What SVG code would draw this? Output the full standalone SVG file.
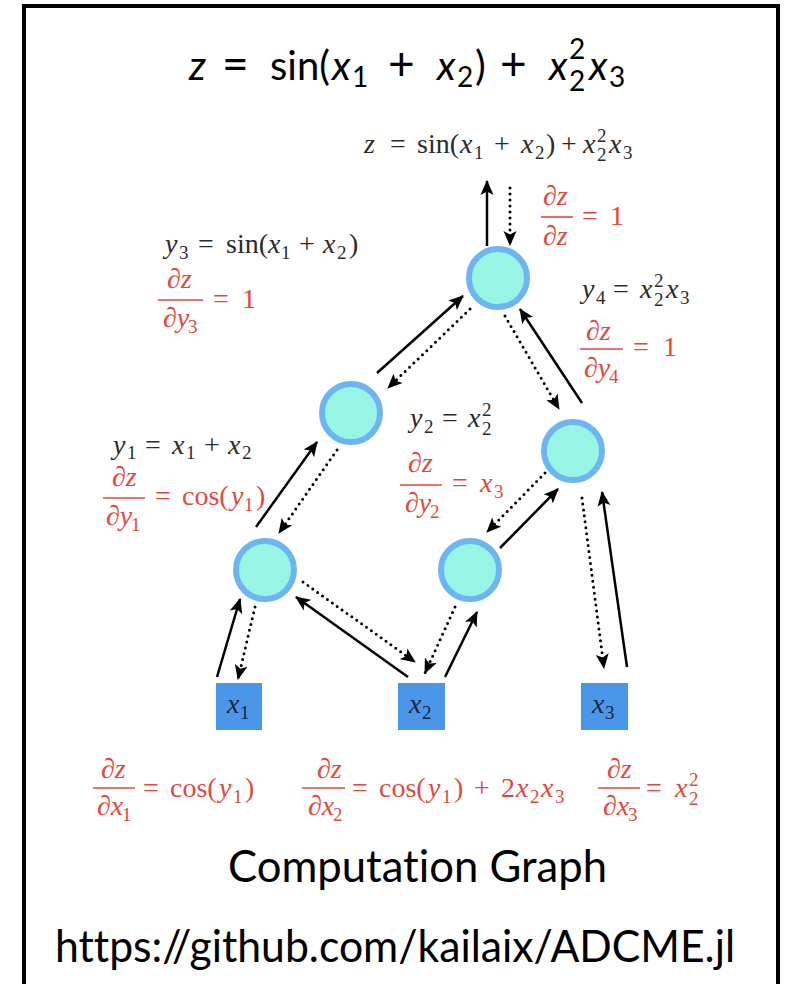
<svg xmlns="http://www.w3.org/2000/svg" width="787" height="984" viewBox="0 0 787 984">
<defs>
<marker id="ah" markerUnits="userSpaceOnUse" markerWidth="16" markerHeight="14" refX="14" refY="7" orient="auto">
<path d="M0,0.5 L15,7 L0,13.5 L3.5,7 z" fill="#000"/>
</marker>
<style>
.sans{font-family:Lato,"Noto Sans",sans-serif;fill:#000}
.cal{font-family:Lato,"Open Sans",sans-serif;fill:#000;font-variant-ligatures:none}
.serif{font-family:"Liberation Serif","Times New Roman",serif;font-size:28px}
.it{font-style:italic}
.s{font-size:19px;font-style:normal}
.blk{fill:#2b2b2b}
.red{fill:#e4473b}
.bar{stroke:#e4473b;stroke-width:1.6}
.node circle{fill:#98f5e3;stroke:#6cb5f2;stroke-width:6}
.inp rect{fill:#4a97ea}
.inp text{fill:#1d2340}
.solid{stroke:#000;stroke-width:2.5;fill:none;marker-end:url(#ah)}
.dot{stroke:#000;stroke-width:3;stroke-dasharray:0 6;stroke-linecap:round;fill:none;marker-end:url(#ah)}
</style>
</defs>
<rect x="0" y="0" width="787" height="984" fill="#fff"/>
<rect x="24" y="6" width="754" height="1010" fill="none" stroke="#000" stroke-width="4"/>

<!-- title -->
<text class="sans" font-size="40" y="80"><tspan x="189" class="it">z</tspan><tspan x="222" font-size="46">=</tspan><tspan x="270">sin(</tspan><tspan x="332" class="it">x</tspan><tspan x="352" y="87" font-size="28">1</tspan><tspan x="388" y="80" font-size="46">+</tspan><tspan x="437" class="it">x</tspan><tspan x="457" y="87" font-size="28">2</tspan><tspan x="475" y="80">)</tspan><tspan x="500" font-size="46">+</tspan><tspan x="549" class="it">x</tspan><tspan x="569" y="59" font-size="28">2</tspan><tspan x="569" y="91" font-size="28">2</tspan><tspan x="589" y="80" class="it">x</tspan><tspan x="609" y="87" font-size="28">3</tspan></text>

<!-- second formula -->
<text class="serif blk" y="153"><tspan x="364" class="it">z</tspan><tspan x="390">=</tspan><tspan x="417">sin(</tspan><tspan x="460" class="it">x</tspan><tspan x="474" y="159" class="s">1</tspan><tspan x="494" y="153">+</tspan><tspan x="521" class="it">x</tspan><tspan x="535" y="159" class="s">2</tspan><tspan x="546" y="153">)</tspan><tspan x="561">+</tspan><tspan x="583" class="it">x</tspan><tspan x="597" y="142" class="s">2</tspan><tspan x="597" y="161" class="s">2</tspan><tspan x="609" y="153" class="it">x</tspan><tspan x="623" y="159" class="s">3</tspan></text>

<g id="connectors">
<line class="solid" x1="487" y1="246" x2="487" y2="181"/>
<line class="dot" x1="510" y1="188" x2="510" y2="245"/>
<line class="solid" x1="377" y1="373" x2="463" y2="296"/>
<line class="dot" x1="470" y1="309" x2="388" y2="388"/>
<line class="solid" x1="582" y1="403" x2="520" y2="309"/>
<line class="dot" x1="505" y1="316" x2="559" y2="409"/>
<line class="solid" x1="256" y1="527" x2="317" y2="442"/>
<line class="dot" x1="337" y1="450" x2="279" y2="533"/>
<line class="solid" x1="500" y1="548" x2="558" y2="489"/>
<line class="dot" x1="545" y1="473" x2="487" y2="532"/>
<line class="solid" x1="217" y1="677" x2="240" y2="599"/>
<line class="dot" x1="255" y1="607" x2="238" y2="679"/>
<line class="solid" x1="408" y1="677" x2="296" y2="597"/>
<line class="dot" x1="303" y1="582" x2="415" y2="662"/>
<line class="solid" x1="445" y1="677" x2="477" y2="612"/>
<line class="dot" x1="455" y1="607" x2="425" y2="673"/>
<line class="solid" x1="627" y1="667" x2="602" y2="492"/>
<line class="dot" x1="582" y1="498" x2="604" y2="668"/>
</g>

<g id="node-z" class="node"><circle cx="498" cy="278" r="29"/></g>
<g id="node-y3" class="node"><circle cx="351" cy="413" r="29"/></g>
<g id="node-y4" class="node"><circle cx="573" cy="451" r="29"/></g>
<g id="node-y1" class="node"><circle cx="265" cy="570" r="29"/></g>
<g id="node-y2" class="node"><circle cx="470" cy="570" r="29"/></g>

<g id="input-x1" class="inp"><rect x="216" y="683" width="46" height="47"/>
<text class="serif" y="713"><tspan x="227" class="it">x</tspan><tspan x="240" y="719" class="s">1</tspan></text></g>
<g id="input-x2" class="inp"><rect x="398" y="683" width="47" height="47"/>
<text class="serif" y="713"><tspan x="409" class="it">x</tspan><tspan x="422" y="719" class="s">2</tspan></text></g>
<g id="input-x3" class="inp"><rect x="581" y="683" width="47" height="47"/>
<text class="serif" y="713"><tspan x="592" class="it">x</tspan><tspan x="605" y="719" class="s">3</tspan></text></g>

<g id="label-y3">
<text class="serif blk" y="253"><tspan x="165" class="it">y</tspan><tspan x="179" y="259" class="s">3</tspan><tspan x="198" y="253">=</tspan><tspan x="226">sin(</tspan><tspan x="268" class="it">x</tspan><tspan x="281" y="259" class="s">1</tspan><tspan x="299" y="253">+</tspan><tspan x="323" class="it">x</tspan><tspan x="337" y="259" class="s">2</tspan><tspan x="349" y="253">)</tspan></text>
<text class="serif red it" x="167" y="288">∂z</text>
<line class="bar" x1="158" y1="300" x2="203" y2="300"/>
<text class="serif red" y="327"><tspan x="163" class="it">∂y</tspan><tspan x="188" y="333" class="s">3</tspan></text>
<text class="serif red" y="308"><tspan x="213">=</tspan><tspan x="242">1</tspan></text>
</g>

<g id="label-z">
<text class="serif red it" x="543" y="205">∂z</text>
<line class="bar" x1="541" y1="217" x2="573" y2="217"/>
<text class="serif red it" x="543" y="245">∂z</text>
<text class="serif red" y="225"><tspan x="582">=</tspan><tspan x="610">1</tspan></text>
</g>

<g id="label-y4">
<text class="serif blk" y="298"><tspan x="582" class="it">y</tspan><tspan x="596" y="304" class="s">4</tspan><tspan x="613" y="298">=</tspan><tspan x="640" class="it">x</tspan><tspan x="654" y="287" class="s">2</tspan><tspan x="654" y="306" class="s">2</tspan><tspan x="666" y="298" class="it">x</tspan><tspan x="680" y="304" class="s">3</tspan></text>
<text class="serif red it" x="586" y="340">∂z</text>
<line class="bar" x1="580" y1="349" x2="623" y2="349"/>
<text class="serif red" y="377"><tspan x="584" class="it">∂y</tspan><tspan x="609" y="383" class="s">4</tspan></text>
<text class="serif red" y="356"><tspan x="633">=</tspan><tspan x="663">1</tspan></text>
</g>

<g id="label-y2">
<text class="serif blk" y="427"><tspan x="410" class="it">y</tspan><tspan x="424" y="433" class="s">2</tspan><tspan x="442" y="427">=</tspan><tspan x="468" class="it">x</tspan><tspan x="482" y="416" class="s">2</tspan><tspan x="482" y="435" class="s">2</tspan></text>
<text class="serif red it" x="408" y="472">∂z</text>
<line class="bar" x1="400" y1="485" x2="442" y2="485"/>
<text class="serif red" y="512"><tspan x="405" class="it">∂y</tspan><tspan x="430" y="518" class="s">2</tspan></text>
<text class="serif red" y="492"><tspan x="452">=</tspan><tspan x="480" class="it">x</tspan><tspan x="494" y="498" class="s">3</tspan></text>
</g>

<g id="label-y1">
<text class="serif blk" y="454"><tspan x="113" class="it">y</tspan><tspan x="127" y="459" class="s">1</tspan><tspan x="145" y="454">=</tspan><tspan x="172" class="it">x</tspan><tspan x="186" y="459" class="s">1</tspan><tspan x="204" y="454">+</tspan><tspan x="228" class="it">x</tspan><tspan x="242" y="459" class="s">2</tspan></text>
<text class="serif red it" x="112" y="486">∂z</text>
<line class="bar" x1="103" y1="498" x2="145" y2="498"/>
<text class="serif red" y="525"><tspan x="106" class="it">∂y</tspan><tspan x="131" y="531" class="s">1</tspan></text>
<text class="serif red" y="505"><tspan x="155">=</tspan><tspan x="182">cos(</tspan><tspan x="231" class="it">y</tspan><tspan x="244" y="511" class="s">1</tspan><tspan x="256" y="505">)</tspan></text>
</g>

<g id="grad-x1">
<text class="serif red it" x="101" y="778">∂z</text>
<line class="bar" x1="93" y1="788" x2="135" y2="788"/>
<text class="serif red" y="815"><tspan x="97" class="it">∂x</tspan><tspan x="122" y="821" class="s">1</tspan></text>
<text class="serif red" y="797"><tspan x="143">=</tspan><tspan x="170">cos(</tspan><tspan x="219" class="it">y</tspan><tspan x="233" y="803" class="s">1</tspan><tspan x="245" y="797">)</tspan></text>
</g>
<g id="grad-x2">
<text class="serif red it" x="317" y="778">∂z</text>
<line class="bar" x1="302" y1="788" x2="345" y2="788"/>
<text class="serif red" y="815"><tspan x="308" class="it">∂x</tspan><tspan x="333" y="821" class="s">2</tspan></text>
<text class="serif red" y="797"><tspan x="352">=</tspan><tspan x="379">cos(</tspan><tspan x="428" class="it">y</tspan><tspan x="442" y="803" class="s">1</tspan><tspan x="454" y="797">)</tspan><tspan x="474">+</tspan><tspan x="501">2</tspan><tspan x="516" class="it">x</tspan><tspan x="530" y="803" class="s">2</tspan><tspan x="541" y="797" class="it">x</tspan><tspan x="555" y="803" class="s">3</tspan></text>
</g>
<g id="grad-x3">
<text class="serif red it" x="607" y="778">∂z</text>
<line class="bar" x1="598" y1="788" x2="640" y2="788"/>
<text class="serif red" y="815"><tspan x="603" class="it">∂x</tspan><tspan x="628" y="821" class="s">3</tspan></text>
<text class="serif red" y="797"><tspan x="646">=</tspan><tspan x="675" class="it">x</tspan><tspan x="689" y="786" class="s">2</tspan><tspan x="689" y="805" class="s">2</tspan></text>
</g>

<text class="cal" font-size="44" x="228" y="882" textLength="379" lengthAdjust="spacingAndGlyphs">Computation Graph</text>
<text class="cal" font-size="44" x="55" y="962" textLength="680" lengthAdjust="spacingAndGlyphs">https://github.com/kailaix/ADCME.jl</text>
</svg>
